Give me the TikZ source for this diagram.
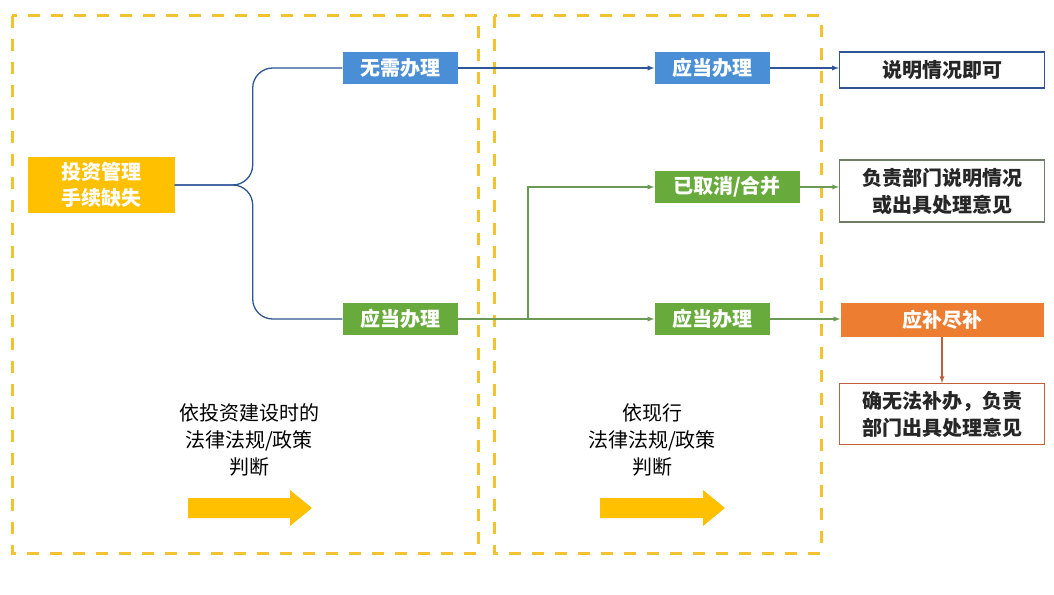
\documentclass[tikz,border=0pt]{standalone}
\usepackage{fontspec}
\setmainfont{Noto Sans CJK SC}
\usepackage{tikz}
\usetikzlibrary{positioning, calc}

\definecolor{gold}{HTML}{FFC000}
\definecolor{dashgold}{HTML}{F2C230}
\definecolor{boxblue}{HTML}{4A8FD6}
\definecolor{boxgreen}{HTML}{68AB3C}
\definecolor{boxorange}{HTML}{ED7D31}
\definecolor{lineblue}{HTML}{2F5597}
\definecolor{linegreen}{HTML}{6B9A55}
\definecolor{linebrown}{HTML}{C0603A}
\definecolor{edgegray}{HTML}{6E7E66}

\begin{document}
\begin{tikzpicture}[x=1pt, y=-1pt,
    every node/.style={font=\fontsize{20}{26}\selectfont, align=center},
    fill box/.style={fill=#1, text=white, font=\fontsize{20}{26}\selectfont\bfseries,
        minimum height=32, inner sep=0pt},
    out box/.style={draw=#1, line width=1.5pt, fill=white, minimum width=205, inner sep=2pt,
        font=\fontsize{20}{27}\selectfont\bfseries, text=black!85},
    frame/.style={draw=dashgold, line width=3pt, dash pattern=on 12pt off 11pt},
    conn/.style={line width=1.3pt, -latex}
    ]
    \useasboundingbox[fill=white] (0,0) rectangle (1054,594);

    % the two dashed frames
    \draw[frame] (12,16) rectangle (478,553);
    \draw[frame] (494,16) rectangle (821,553);

    % boxes
    \node[fill box=gold, minimum width=147, minimum height=56] (start) at (101,185) {投资管理\\手续缺失};
    \node[fill box=boxblue, minimum width=115] (nx) at (400,68) {无需办理};
    \node[fill box=boxgreen, minimum width=115] (lg) at (400,319) {应当办理};
    \node[fill box=boxblue, minimum width=115] (rb) at (712,68) {应当办理};
    \node[fill box=boxgreen, minimum width=145] (cancel) at (727,187) {已取消/合并};
    \node[fill box=boxgreen, minimum width=115] (rg) at (712,319) {应当办理};
    \node[out box=lineblue, minimum height=36] (say) at (942,70) {说明情况即可};
    \node[out box=edgegray, minimum height=62, line width=1.1pt] (dept) at (942,191) {负责部门说明情况\\或出具处理意见};
    \node[fill box=boxorange, minimum width=203, minimum height=34] (fill) at (942,320) {应补尽补};
    \node[out box=linebrown, minimum height=61, line width=1.1pt] (unable) at (942,414) {确无法补办，负责\\部门出具处理意见};

    % captions
    \node[font=\fontsize{20}{27}\selectfont] (cap1) at (249,440) {依投资建设时的\\法律法规/政策\\判断};
    \node[font=\fontsize{20}{27}\selectfont] (cap2) at (652,440) {依现行\\法律法规/政策\\判断};

    % big yellow arrows
    \fill[gold] (188,498) -- (290,498) -- (290,490) -- (312,508) -- (290,526) -- (290,518) -- (188,518) -- cycle;
    \fill[gold] (600,498) -- (703,498) -- (703,490) -- (725,508) -- (703,526) -- (703,518) -- (600,518) -- cycle;

    % bracket from start
    \draw[lineblue, line width=1.3pt, rounded corners=20] (start.east) -- ++(78,0) |- (nx.west);
    \draw[lineblue, line width=1.3pt, rounded corners=20] (start.east) -- ++(78,0) |- (lg.west);

    % connectors
    \draw[conn, lineblue] (nx.east) -- (rb.west);
    \draw[conn, lineblue] (rb.east) -- (rb.east -| say.west);
    \coordinate (fork) at (528,319);
    \draw[conn, linegreen] (lg.east) -- (rg.west);
    \draw[conn, linegreen] (fork) |- (cancel.west);
    \draw[conn, linegreen] (cancel.east) -- (cancel.east -| dept.west);
    \draw[conn, linegreen] (rg.east) -- (rg.east -| fill.west);
    \draw[conn, linebrown] (fill.south) -- (unable.north);
\end{tikzpicture}
\end{document}
